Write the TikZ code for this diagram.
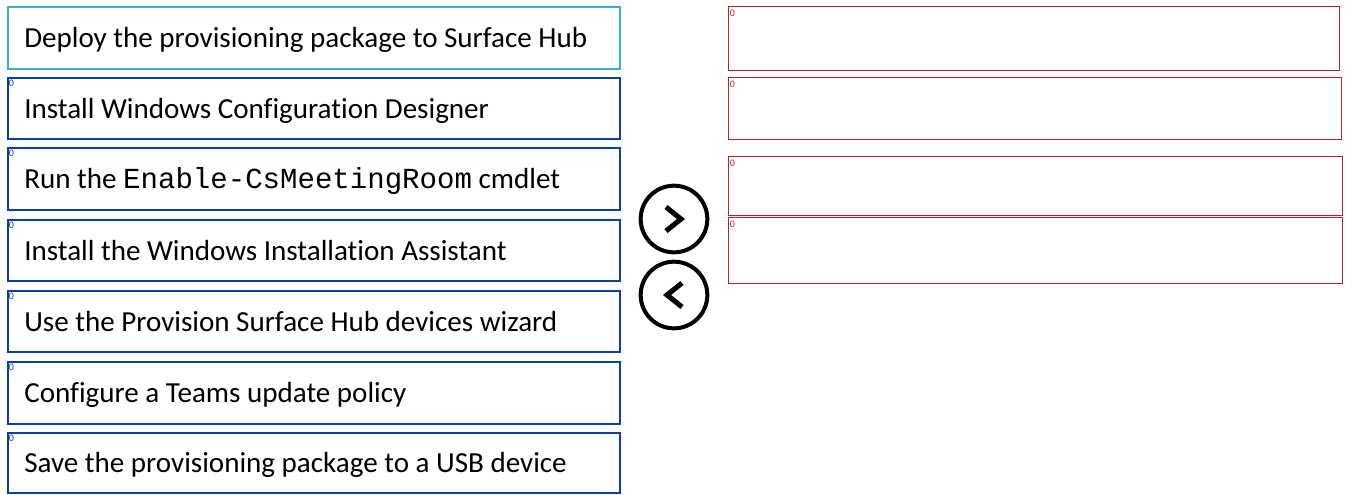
\documentclass[tikz,border=0pt]{standalone}
\usepackage{fontspec}
\usetikzlibrary{calc}
\setmainfont[Ligatures=NoCommon]{Carlito}
\newfontfamily\monofont{Liberation Mono}
\definecolor{lblue}{HTML}{0A3EA8}
\definecolor{lteal}{HTML}{3AAFC6}
\definecolor{rred}{HTML}{B8202A}
\begin{document}
\begin{tikzpicture}[x=0.75pt,y=-0.75pt,
  lbox/.style={draw=lblue,line width=1.5pt},
  tbox/.style={draw=lteal,line width=1.5pt},
  rbox/.style={draw=rred,line width=0.65pt},
  itemtext/.style={anchor=base west,inner sep=0pt,font=\fontsize{21.8}{24}\selectfont},
  zl/.style={anchor=north west,inner sep=0pt,font=\fontsize{7.5}{8}\selectfont,text=lblue},
  zr/.style={anchor=north west,inner sep=0pt,font=\fontsize{7.5}{8}\selectfont,text=rred},
  circ/.style={draw=black,line width=3pt,circle,minimum size=50pt,inner sep=0pt},
  chev/.style={line width=3.8pt,line join=miter}]
\useasboundingbox (0,0) rectangle (1372,494);
% left boxes
\draw[tbox] (8,7) rectangle (620,69);
\node[itemtext] (t1) at (24,47) {Deploy the provisioning package to Surface Hub};
\foreach \i/\a/\b/\t in {2/78/139/{Install Windows Configuration Designer},
  3/148/210/{Run the {\monofont\fontsize{21.8}{24}\selectfont Enable-CsMeetingRoom} cmdlet},
  4/220/281/{Install the Windows Installation Assistant},
  5/291/352/{Use the Provision Surface Hub devices wizard},
  6/362/424/{Configure a Teams update policy},
  7/433/493/{Save the provisioning package to a USB device}}{
  \draw[lbox] (8,\a) rectangle (620,\b);
  \node[zl] (z\i) at (8.5,\a+2) {0};
  \node[itemtext] (t\i) at (24,{(\a+\b)/2+9.5}) {\t};
}
% right boxes
\foreach \i/\a/\b/\r in {1/6/70/1339,2/77/139/1341,3/156/215/1342,4/217/283/1342}{
  \draw[rbox] (728,\a) rectangle (\r,\b);
  \node[zr] (r\i) at (729.5,\a+4) {0};
}
% buttons
\node[circ] (next) at (674,219) {};
\node[circ] (prev) at (674,295) {};
\draw[chev] ($(next)+(-8,-12)$) -- ($(next)+(7,0)$) -- ($(next)+(-8,12)$);
\draw[chev] ($(prev)+(8,-12)$) -- ($(prev)+(-7,0)$) -- ($(prev)+(8,12)$);
\end{tikzpicture}
\end{document}
